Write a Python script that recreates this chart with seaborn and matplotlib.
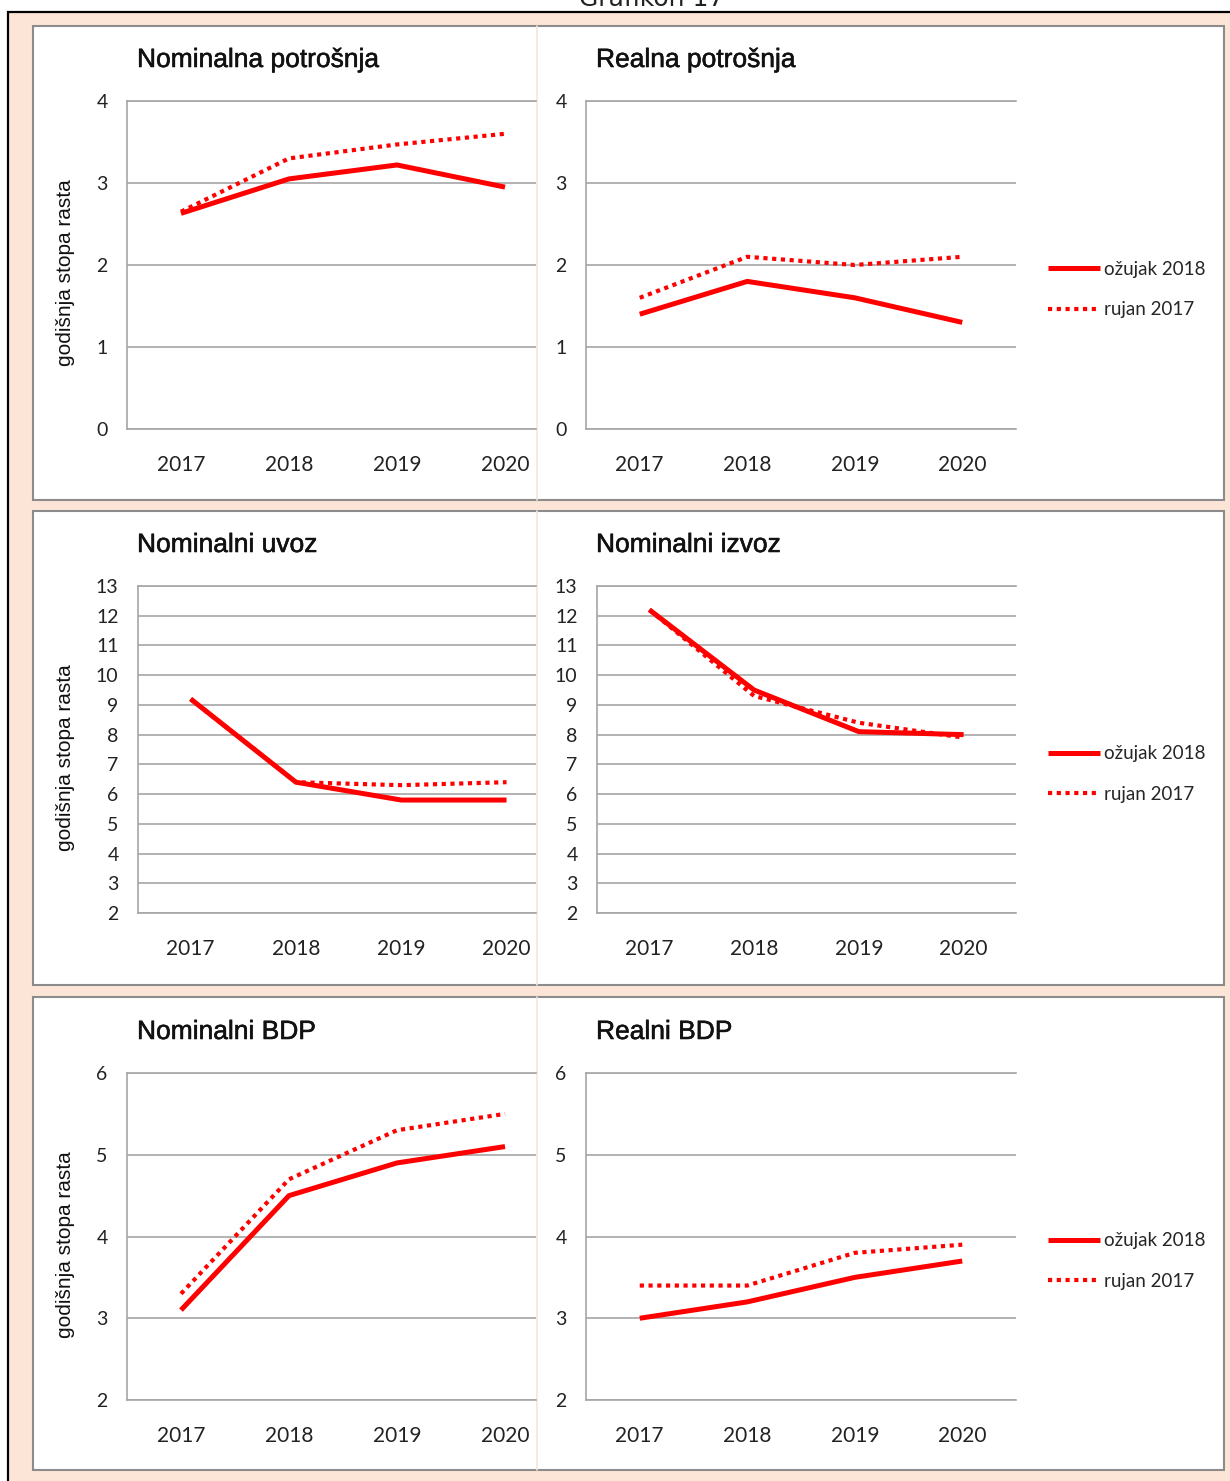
import matplotlib
matplotlib.use('Agg')
import matplotlib.pyplot as plt
import matplotlib.patheffects as pe
import seaborn as sns
from matplotlib.patches import Rectangle
from matplotlib.lines import Line2D

# =============================================================================
# Data
# =============================================================================

years = [2017, 2018, 2019, 2020]
series_names = ['ožujak 2018', 'rujan 2017']

nom_potrosnja_ozujak = [2.63, 3.05, 3.22, 2.95]
nom_potrosnja_rujan = [2.65, 3.30, 3.47, 3.60]

real_potrosnja_ozujak = [1.4, 1.8, 1.6, 1.3]
real_potrosnja_rujan = [1.6, 2.1, 2.0, 2.1]

nom_uvoz_ozujak = [9.2, 6.4, 5.8, 5.8]
nom_uvoz_rujan = [9.2, 6.4, 6.3, 6.4]

nom_izvoz_ozujak = [12.2, 9.5, 8.1, 8.0]
nom_izvoz_rujan = [12.2, 9.3, 8.4, 7.9]

nom_bdp_ozujak = [3.1, 4.5, 4.9, 5.1]
nom_bdp_rujan = [3.3, 4.7, 5.3, 5.5]

real_bdp_ozujak = [3.0, 3.2, 3.5, 3.7]
real_bdp_rujan = [3.4, 3.4, 3.8, 3.9]

titles = ['Nominalna potrošnja', 'Realna potrošnja',
          'Nominalni uvoz', 'Nominalni izvoz',
          'Nominalni BDP', 'Realni BDP']
y_label = 'godišnja stopa rasta'
fig_title = 'Grafikon 17'

# =============================================================================
# Style
# =============================================================================

sns.set_theme(style='white')
plt.rcParams['font.family'] = ['Liberation Sans', 'DejaVu Sans']

W, H = 1230, 1481
PEACH = '#FCE5D7'
RED = '#FF0000'
GRID = '#A6A6A6'
TICK_FONT = 'Lato'


def fx(x):
    return x / W


def fy(y):
    return 1 - y / H


fig = plt.figure(figsize=(W / 100, H / 100), dpi=100, facecolor='white')

# outer frame
fig.add_artist(Rectangle((fx(8), fy(H + 5)), fx(W + 10 - 8), fy(12) - fy(H + 5),
                         transform=fig.transFigure, facecolor=PEACH,
                         edgecolor='black', linewidth=1.6, zorder=0))
fig.text(fx(652), fy(6), fig_title, ha='center', va='baseline',
         fontsize=18, family='DejaVu Sans', color='#222222')

# white panels per row (top, bottom in px)
rows = [(26, 500), (511, 985), (997, 1470)]
for top, bottom in rows:
    fig.add_artist(Rectangle((fx(33), fy(bottom)), fx(1224 - 33), fy(top) - fy(bottom),
                             transform=fig.transFigure, facecolor='white',
                             edgecolor='#8C8C8C', linewidth=1.5, zorder=1))
    fig.add_artist(Line2D([fx(537), fx(537)], [fy(bottom), fy(top)],
                          transform=fig.transFigure, color='#F3E6DC',
                          linewidth=1.2, zorder=2))

# axes geometry in px: left, right, top, bottom, category width
panels = [
    dict(rect=(127, 536, 101, 429), step=108.0, ylim=(0, 4)),
    dict(rect=(586, 1016, 101, 429), step=107.5, ylim=(0, 4)),
    dict(rect=(138, 536, 586, 913), step=105.3, ylim=(2, 13)),
    dict(rect=(597, 1016, 586, 913), step=104.75, ylim=(2, 13)),
    dict(rect=(127, 536, 1073, 1400), step=108.0, ylim=(2, 6)),
    dict(rect=(586, 1016, 1073, 1400), step=107.5, ylim=(2, 6)),
]
series = [
    (nom_potrosnja_ozujak, nom_potrosnja_rujan),
    (real_potrosnja_ozujak, real_potrosnja_rujan),
    (nom_uvoz_ozujak, nom_uvoz_rujan),
    (nom_izvoz_ozujak, nom_izvoz_rujan),
    (nom_bdp_ozujak, nom_bdp_rujan),
    (real_bdp_ozujak, real_bdp_rujan),
]

for i, (p, (solid, dotted)) in enumerate(zip(panels, series)):
    left, right, top, bottom = p['rect']
    ax = fig.add_axes([fx(left), fy(bottom), fx(right - left), fy(top) - fy(bottom)])
    ax.set_zorder(3)
    ax.patch.set_alpha(0)

    sns.lineplot(x=years, y=dotted, ax=ax, color=RED, linewidth=3.0,
                 linestyle=(0, (1, 1.1)), label=series_names[1], legend=False)
    sns.lineplot(x=years, y=solid, ax=ax, color=RED, linewidth=3.6,
                 solid_capstyle='butt', label=series_names[0], legend=False)

    x0 = years[0] - 0.5
    ax.set_xlim(x0, x0 + (right - left) / p['step'])
    ax.set_ylim(*p['ylim'])
    ax.set_xticks(years)
    ax.set_xticklabels([str(y) for y in years])
    ax.set_yticks(range(p['ylim'][0], p['ylim'][1] + 1))
    ax.tick_params(axis='x', length=0, pad=19, labelsize=15, colors='#222222')
    ax.tick_params(axis='y', length=0, pad=14, labelsize=14, colors='#222222')
    for lab in ax.get_xticklabels() + ax.get_yticklabels():
        lab.set_family(TICK_FONT)

    ax.yaxis.grid(True, color=GRID, linewidth=1.2)
    ax.xaxis.grid(False)
    for side in ['left', 'bottom', 'top']:
        ax.spines[side].set_visible(True)
        ax.spines[side].set_color(GRID)
        ax.spines[side].set_linewidth(1.2)
    ax.spines['right'].set_visible(False)
    ax.set_xlabel('')

    # panel title
    fig.text(fx(left + (10 if i in (0, 1, 4, 5) else -1)), fy(top - 41), titles[i],
             ha='left', va='center', fontsize=19, color='#111111',
             path_effects=[pe.withStroke(linewidth=0.4, foreground='#111111')])

    if i % 2 == 0:
        ax.set_ylabel(y_label, fontsize=15, color='#111111')
        ax.yaxis.set_label_coords((75 - left) / (right - left), 0.476)
    else:
        ax.set_ylabel('')
        handles, labels = ax.get_legend_handles_labels()
        order = [labels.index(n) for n in series_names]
        ax.legend([handles[k] for k in order], [labels[k] for k in order],
                  loc='center left', bbox_to_anchor=(1 + 32 / (right - left), 0.425),
                  frameon=False, borderpad=0, borderaxespad=0,
                  handlelength=2.75, handletextpad=0.25, labelspacing=1.25,
                  prop={'family': TICK_FONT, 'size': 13.5})

fig.savefig('out.png', dpi=100, facecolor='white')
